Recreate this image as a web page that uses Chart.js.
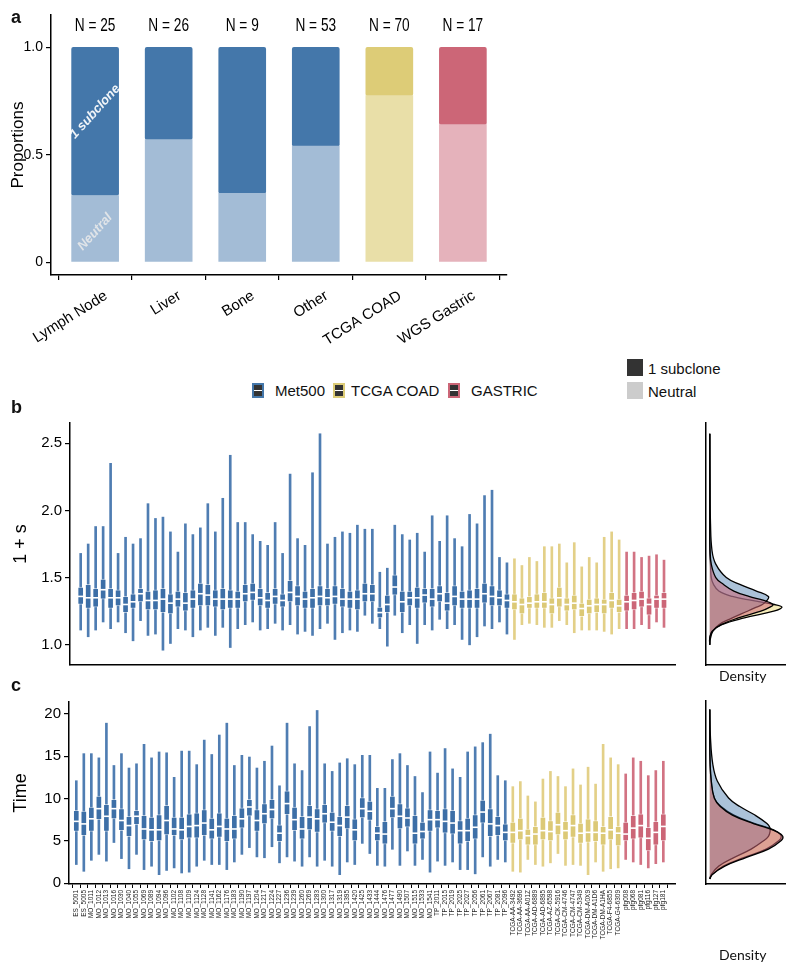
<!DOCTYPE html>
<html>
<head>
<meta charset="utf-8">
<script src="https://cdn.jsdelivr.net/npm/chart.js@4.4.1/dist/chart.umd.min.js"></script>
<style>
body { margin: 0; background: #fff; width: 800px; height: 963px; position: relative; overflow: hidden; font-family: "Liberation Sans", Arial, sans-serif; }
canvas { position: absolute; }
.t { position: absolute; white-space: nowrap; color: #111; line-height: 1; }
.letter { font-weight: bold; font-size: 18px; }
.bp { position: absolute; width: 8px; height: 11px; border: 2px solid; background: linear-gradient(#333 0 42%, #fff 42% 58%, #333 58%); }
.sq { position: absolute; width: 16px; height: 17px; }
.dens { font-family: Lato, "Open Sans", sans-serif; font-size: 14px; }
</style>
</head>
<body>
<canvas id="propChart" width="520" height="350" style="left:0;top:0"></canvas>
<canvas id="selChart" width="690" height="280" style="left:0;top:400px"></canvas>
<canvas id="selDens" width="110" height="280" style="left:690px;top:400px"></canvas>
<canvas id="timeChart" width="690" height="273" style="left:0;top:690px"></canvas>
<canvas id="timeDens" width="110" height="273" style="left:690px;top:690px"></canvas>

<div class="t letter" style="left:11px;top:8px">a</div>
<div class="t letter" style="left:11px;top:398px">b</div>
<div class="t letter" style="left:11px;top:676px">c</div>

<div class="bp" style="left:252px;top:383px;border-color:#4477aa"></div>
<div class="t" style="left:275px;top:383px;font-size:15px">Met500</div>
<div class="bp" style="left:333px;top:383px;border-color:#ddcc77"></div>
<div class="t" style="left:351px;top:383px;font-size:15px">TCGA COAD</div>
<div class="bp" style="left:448px;top:383px;border-color:#cc6677"></div>
<div class="t" style="left:471px;top:383px;font-size:15px">GASTRIC</div>

<div class="sq" style="left:627px;top:359px;background:#333"></div>
<div class="t" style="left:648px;top:361px;font-size:15px">1 subclone</div>
<div class="sq" style="left:627px;top:382px;background:#ccc"></div>
<div class="t" style="left:648px;top:384px;font-size:15px">Neutral</div>

<div class="t dens" style="left:719px;top:669px">Density</div>
<div class="t dens" style="left:719px;top:948px">Density</div>

<script>
Chart.defaults.font.family = '"Liberation Sans", Arial, sans-serif';
Chart.defaults.color = '#111';
Chart.defaults.animation = false;

// ---- panel a: proportions ----
const sites = ["Lymph Node", "Liver", "Bone", "Other", "TCGA COAD", "WGS Gastric"];
const siteN = [25, 26, 9, 53, 70, 17];
const neutralProp = [0.31, 0.57, 0.32, 0.54, 0.775, 0.64];
const subcloneProp = [0.69, 0.43, 0.68, 0.46, 0.225, 0.36];
const propTicks = [0, 0.5, 1.0];

// ---- panels b/c: per-sample boxplots ----
const samples = [
  "ES_5001","ES_5005","MO_1011","MO_1012","MO_1013","MO_1016","MO_1030","MO_1040","MO_1055","MO_1069",
  "MO_1089","MO_1094","MO_1096","MO_1102","MO_1108","MO_1109","MO_1124","MO_1128","MO_1141","MO_1162",
  "MO_1176","MO_1183","MO_1190","MO_1197","MO_1204","MO_1217","MO_1224","MO_1227","MO_1236","MO_1239",
  "MO_1260","MO_1269","MO_1283","MO_1300","MO_1317","MO_1319","MO_1395","MO_1420","MO_1425","MO_1433",
  "MO_1444","MO_1476","MO_1477","MO_1490","MO_1507","MO_1515","MO_1533","MO_1541","TP_2011","TP_2015",
  "TP_2019","TP_2025","TP_2027","TP_2056","TP_2061","TP_2067","TP_2081","TP_2096","TCGA-AA-3492","TCGA-AA-3696",
  "TCGA-AA-A01Z","TCGA-AD-6889","TCGA-AD-6895","TCGA-AZ-6598","TCGA-CK-5916","TCGA-CM-4746","TCGA-CM-4747","TCGA-CM-5349","TCGA-DM-A0X9","TCGA-DM-A1D6",
  "TCGA-DM-A1HA","TCGA-F4-6855","TCGA-G4-6309","pfg008","pfg068","pfg081","pfg116","pfg127","pfg181"
];

// 1 + s
const selMax = [1.68,1.75,1.88,1.88,2.35,1.68,1.80,1.75,1.79,2.05, 1.94,1.95,1.84,1.69,1.90,1.82,1.87,2.05,1.84,2.09,
  2.41,1.91,1.91,1.82,1.77,1.74,1.91,1.68,2.27,1.79, 1.74,2.28,2.57,1.75,1.80,1.84,1.83,1.89,1.86,1.86,
  1.54,1.57,1.89,1.82,1.78,1.83,1.69,1.96,1.77,1.96, 1.79,1.73,1.97,1.90,2.11,2.15,1.65,1.61,1.64,1.59,
  1.65,1.62,1.73,1.73,1.75,1.61,1.76,1.58,1.65,1.61, 1.80,1.84,1.78,1.69,1.69,1.65,1.66,1.67,1.63];
const selQ3 = [1.43,1.45,1.42,1.49,1.42,1.41,1.36,1.38,1.42,1.40, 1.41,1.42,1.38,1.40,1.39,1.41,1.46,1.45,1.41,1.42,
  1.41,1.40,1.45,1.46,1.42,1.39,1.42,1.38,1.48,1.44, 1.40,1.42,1.44,1.42,1.44,1.42,1.40,1.41,1.46,1.45,
  1.28,1.37,1.52,1.40,1.40,1.43,1.42,1.42,1.44,1.39, 1.44,1.40,1.41,1.42,1.46,1.44,1.41,1.38,1.38,1.35,
  1.36,1.38,1.39,1.35,1.43,1.35,1.37,1.31,1.34,1.35, 1.34,1.39,1.34,1.37,1.39,1.40,1.35,1.37,1.39];
const selMed = [1.36,1.35,1.35,1.41,1.35,1.35,1.30,1.32,1.38,1.33, 1.33,1.34,1.31,1.34,1.31,1.34,1.38,1.37,1.34,1.34,
  1.34,1.34,1.38,1.39,1.35,1.33,1.36,1.33,1.39,1.36, 1.34,1.35,1.36,1.35,1.36,1.34,1.34,1.34,1.38,1.38,
  1.24,1.30,1.43,1.32,1.35,1.35,1.37,1.34,1.38,1.31, 1.36,1.34,1.34,1.34,1.38,1.36,1.35,1.33,1.32,1.30,
  1.31,1.32,1.32,1.30,1.35,1.30,1.31,1.27,1.29,1.30, 1.30,1.33,1.29,1.32,1.33,1.34,1.30,1.34,1.34];
const selQ1 = [1.30,1.27,1.28,1.34,1.27,1.29,1.24,1.27,1.32,1.26, 1.26,1.24,1.23,1.28,1.25,1.27,1.29,1.29,1.28,1.26,
  1.27,1.27,1.32,1.33,1.29,1.27,1.30,1.28,1.32,1.29, 1.27,1.27,1.29,1.29,1.30,1.28,1.27,1.26,1.32,1.32,
  1.20,1.24,1.37,1.24,1.29,1.27,1.31,1.28,1.32,1.25, 1.29,1.27,1.27,1.27,1.31,1.29,1.29,1.27,1.26,1.23,
  1.27,1.27,1.27,1.23,1.28,1.25,1.26,1.21,1.23,1.24, 1.23,1.27,1.24,1.25,1.26,1.28,1.22,1.27,1.27];
const selMin = [1.11,1.06,1.11,1.17,1.12,1.17,1.09,1.03,1.18,1.07, 1.08,0.96,1.01,1.12,1.11,1.06,1.11,1.13,1.07,1.13,
  0.98,1.12,1.15,1.17,1.11,1.12,1.16,1.11,1.15,1.08, 1.10,1.07,1.12,1.16,1.04,1.09,1.11,1.10,1.22,1.16,
  1.12,0.99,1.22,1.09,1.15,1.01,1.15,1.11,1.19,1.12, 1.15,1.04,1.00,1.06,1.14,1.12,1.17,1.08,1.04,1.15,
  1.16,1.15,1.13,1.13,1.18,1.15,1.09,1.11,1.11,1.11, 1.10,1.08,1.12,1.12,1.12,1.15,1.12,1.17,1.13];

// Time
const timeMax = [12.1,15.3,15.3,14.8,18.9,13.9,15.3,13.6,14.1,16.4, 14.8,15.5,15.4,12.5,15.6,15.6,14.0,16.9,15.2,17.5,
  18.9,13.9,15.1,14.9,13.6,14.4,16.2,11.5,18.9,14.1, 13.3,18.5,20.4,14.1,13.2,14.2,14.7,14.0,15.1,15.1,
  11.2,11.2,14.6,15.3,13.9,12.6,10.7,15.5,13.0,15.9, 13.5,12.5,15.5,16.1,16.6,17.6,12.7,12.1,11.4,12.0,
  10.3,9.6,12.3,13.2,12.6,11.4,13.5,11.6,13.7,11.7, 16.4,14.8,14.0,12.9,14.8,14.4,12.7,13.3,14.4];
const timeQ3 = [8.6,8.5,9.0,10.3,9.3,9.9,8.8,7.9,8.6,8.0, 7.8,8.1,9.2,7.8,7.8,8.2,8.3,8.7,7.7,8.3,
  7.7,8.0,8.9,9.9,8.7,9.4,9.9,6.9,10.9,9.0, 7.9,9.2,8.8,9.3,8.4,7.9,9.2,7.6,10.1,9.7,
  6.7,7.3,10.3,9.4,8.9,8.0,7.2,8.7,8.6,8.8, 8.6,7.4,7.7,8.1,9.8,8.8,7.9,7.0,7.2,7.7,
  6.4,6.7,7.8,7.4,8.4,7.3,8.1,7.1,7.6,7.4, 6.7,7.9,6.7,7.2,8.0,8.2,6.6,7.3,8.2];
const timeMed = [7.3,7.0,7.6,8.8,7.9,8.8,7.4,6.8,7.9,6.4, 6.3,6.3,7.4,6.4,6.3,6.7,6.8,7.1,6.3,6.7,
  6.4,6.4,7.6,9.0,7.4,8.2,8.7,5.9,9.4,7.5, 6.4,7.8,7.6,8.2,7.2,6.8,7.8,6.3,8.8,8.5,
  5.9,5.8,8.8,7.9,7.7,5.9,6.1,7.5,7.5,7.3, 7.1,6.2,6.2,6.6,8.4,7.0,6.8,6.0,6.0,6.2,
  5.6,5.8,6.2,6.1,6.9,6.2,6.8,5.9,6.0,6.0, 5.9,6.3,5.9,5.8,6.5,6.8,5.3,6.0,6.7];
const timeQ1 = [6.1,5.6,6.1,7.5,6.1,7.6,6.2,5.5,6.9,5.1, 4.9,5.0,5.7,5.6,5.1,5.3,5.3,5.6,5.2,5.4,
  4.9,5.2,6.5,7.9,6.1,7.0,7.6,4.9,8.1,6.2, 5.2,6.3,6.0,7.1,6.1,5.5,6.4,5.0,7.7,7.4,
  5.0,4.6,7.7,6.4,6.6,4.6,5.2,6.1,6.5,5.9, 5.8,4.6,4.9,5.2,7.1,5.5,5.6,5.0,4.7,5.1,
  4.5,4.5,5.1,5.0,5.7,5.1,5.4,4.7,4.8,4.9, 4.5,5.1,4.4,5.0,5.2,5.3,3.8,4.5,5.0];
const timeMin = [2.2,1.4,2.7,3.4,2.6,4.8,2.9,1.7,3.4,1.6, 2.0,1.0,1.5,1.8,1.2,1.3,2.0,2.7,2.2,2.2,
  1.6,2.5,3.4,4.2,3.1,3.0,4.3,2.4,3.1,2.6, 2.0,3.1,2.0,2.7,2.0,1.0,2.5,2.2,4.7,3.5,
  2.1,2.0,4.0,2.1,3.8,2.1,2.8,1.3,2.6,2.1, 2.5,1.6,1.6,1.1,3.1,2.0,2.8,2.5,1.4,1.3,
  2.8,2.2,2.0,2.4,3.5,2.1,2.2,2.1,1.0,2.5, 1.4,1.7,1.8,2.8,2.5,2.2,1.8,2.3,2.5];

const selTicks = [1.0, 1.5, 2.0, 2.5];
const timeTicks = [0, 5, 10, 15, 20];

// density curves (relative height) along the value axis
const selDensAt = [1.00, 1.05, 1.10, 1.15, 1.20, 1.25, 1.28, 1.30, 1.33, 1.36, 1.40, 1.45, 1.50, 1.60, 1.70, 1.90, 2.20, 2.57];
const selDensMet = [0.00, 0.01, 0.04, 0.12, 0.30, 0.50, 0.62, 0.70, 0.76, 0.78, 0.62, 0.40, 0.22, 0.08, 0.03, 0.01, 0.004, 0.0];
const selDensTcga = [0.00, 0.00, 0.03, 0.16, 0.46, 0.85, 0.96, 0.86, 0.56, 0.30, 0.12, 0.05, 0.02, 0.01, 0.0, 0.0, 0.0, 0.0];
const selDensGas = [0.00, 0.00, 0.03, 0.15, 0.38, 0.68, 0.80, 0.84, 0.72, 0.52, 0.32, 0.18, 0.08, 0.02, 0.005, 0.0, 0.0, 0.0];

const timeDensAt = [0.5, 1, 2, 3, 4, 5, 5.5, 6, 6.5, 7, 8, 9, 10, 12, 14, 17, 20.4];
const timeDensMet = [0, 0.02, 0.12, 0.32, 0.55, 0.72, 0.78, 0.80, 0.80, 0.76, 0.60, 0.40, 0.25, 0.10, 0.04, 0.01, 0];
const timeDensTcga = [0, 0.03, 0.18, 0.45, 0.75, 0.92, 0.95, 0.90, 0.78, 0.60, 0.32, 0.15, 0.06, 0.02, 0.005, 0, 0];
const timeDensGas = [0, 0.03, 0.20, 0.48, 0.78, 0.95, 0.97, 0.90, 0.76, 0.58, 0.30, 0.14, 0.06, 0.02, 0.005, 0, 0];

// colours
const darkCol = ["#4477aa", "#4477aa", "#4477aa", "#4477aa", "#ddcc77", "#cc6677"];
const lightCol = ["#a3bcd6", "#a3bcd6", "#a3bcd6", "#a3bcd6", "#e9dfa8", "#e5b2bb"];
const whiskerCol = ["#4f7db2", "#e3d088", "#d27383"];
const boxCol = ["#3d6fa7", "#dcc976", "#cc6677"];

function cohortOf(s) {
  if (s.startsWith("TCGA")) return 1;
  if (s.startsWith("pfg")) return 2;
  return 0;
}

const axisBlack = { display: true, color: "#000", width: 1.5 };

// Panel a: "N = .." headers and the in-bar captions
const propLabels = {
  id: "propLabels",
  afterDatasetsDraw(chart) {
    const { ctx, scales: { x, y } } = chart;
    ctx.save();
    ctx.fillStyle = "#000";
    ctx.textAlign = "center";
    ctx.textBaseline = "middle";
    ctx.font = '19px "Liberation Sans", sans-serif';
    siteN.forEach((n, i) => {
      ctx.save();
      ctx.translate(x.getPixelForValue(i), y.getPixelForValue(1.1));
      ctx.scale(0.72, 1); // the original type is condensed
      ctx.fillText("N = " + n, 0, 0);
      ctx.restore();
    });
    ctx.restore();

    ctx.save();
    ctx.textAlign = "center";
    ctx.textBaseline = "middle";
    ctx.font = 'italic bold 13px "Liberation Sans", sans-serif';
    ctx.translate(x.getPixelForValue(0), y.getPixelForValue(0.7));
    ctx.rotate(-48 * Math.PI / 180);
    ctx.fillStyle = "rgba(255,255,255,0.92)";
    ctx.fillText("1 subclone", 0, 0);
    ctx.restore();

    ctx.save();
    ctx.textAlign = "center";
    ctx.textBaseline = "middle";
    ctx.font = 'italic bold 13px "Liberation Sans", sans-serif';
    ctx.translate(x.getPixelForValue(0), y.getPixelForValue(0.14));
    ctx.rotate(-48 * Math.PI / 180);
    ctx.fillStyle = "rgba(235,235,235,0.85)";
    ctx.fillText("Neutral", 0, 0);
    ctx.restore();
  }
};

new Chart(document.getElementById("propChart"), {
  type: "bar",
  data: {
    datasets: [
      {
        label: "Neutral",
        data: neutralProp.map((v, i) => ({ x: i, y: v })),
        backgroundColor: lightCol,
        barThickness: 47,
        borderRadius: 2,
        borderSkipped: false
      },
      {
        label: "1 subclone",
        data: subcloneProp.map((v, i) => ({ x: i, y: v })),
        backgroundColor: darkCol,
        barThickness: 47,
        borderRadius: 2,
        borderSkipped: false
      }
    ]
  },
  options: {
    responsive: false,
    layout: { padding: { top: 15, right: 13, left: 0, bottom: 0 } },
    plugins: { legend: { display: false }, tooltip: { enabled: false } },
    scales: {
      x: {
        type: "linear",
        stacked: true,
        offset: false,
        min: -0.6,
        max: 5.6,
        afterBuildTicks: (axis) => { axis.ticks = sites.map((s, i) => ({ value: i })); },
        afterFit: (axis) => { axis.height = 75; },
        ticks: {
          autoSkip: false,
          minRotation: 32,
          maxRotation: 32,
          padding: 7,
          labelOffset: 11,
          color: "#000",
          font: { size: 15 },
          callback: (v) => sites[v]
        },
        grid: { display: true, drawOnChartArea: false, drawTicks: true, tickLength: 5, color: "#000", lineWidth: 1.2 },
        border: axisBlack
      },
      y: {
        stacked: true,
        min: -0.06,
        max: 1.15,
        afterBuildTicks: (axis) => { axis.ticks = propTicks.map(v => ({ value: v })); },
        afterFit: (axis) => { axis.width = 51; },
        ticks: {
          padding: 3,
          color: "#000",
          font: { size: 14 },
          callback: (v) => v === 0 ? "0" : v.toFixed(1)
        },
        grid: { display: true, drawOnChartArea: false, drawTicks: true, tickLength: 5, color: "#000", lineWidth: 1.2 },
        border: axisBlack,
        title: { display: true, text: "Proportions", color: "#000", font: { size: 17 }, padding: { top: 8, bottom: 0 } }
      }
    }
  },
  plugins: [propLabels]
});

// Panels b and c share the same boxplot layout
function boxChart(canvasId, mins, q1s, meds, q3s, maxs, cfg) {
  const groups = samples.map(cohortOf);
  return new Chart(document.getElementById(canvasId), {
    type: "bar",
    data: {
      datasets: [
        {
          type: "line",
          label: "median",
          data: samples.map((s, i) => ({ x: i, y: meds[i] })),
          showLine: false,
          pointStyle: "line",
          pointRadius: 3.2,
          pointBorderWidth: 1.6,
          pointBorderColor: "#fff",
          pointBackgroundColor: "#fff"
        },
        {
          label: "box",
          data: samples.map((s, i) => ({ x: i, y: [q1s[i], q3s[i]] })),
          backgroundColor: groups.map(g => boxCol[g]),
          borderColor: "rgba(255,255,255,0.55)",
          borderWidth: 1,
          borderSkipped: false,
          barThickness: 6,
          grouped: false
        },
        {
          label: "whisker",
          data: samples.map((s, i) => ({ x: i, y: [mins[i], maxs[i]] })),
          backgroundColor: groups.map(g => whiskerCol[g]),
          barThickness: 2,
          grouped: false
        }
      ]
    },
    options: {
      responsive: false,
      layout: { padding: { top: cfg.top, right: 15, left: 0, bottom: 0 } },
      plugins: { legend: { display: false }, tooltip: { enabled: false } },
      scales: {
        x: {
          type: "linear",
          offset: false,
          min: cfg.xMin,
          max: cfg.xMax,
          afterBuildTicks: (axis) => { axis.ticks = samples.map((s, i) => ({ value: i })); },
          afterFit: (axis) => { axis.height = cfg.xHeight; },
          ticks: cfg.showNames ? {
            autoSkip: false,
            minRotation: 90,
            maxRotation: 90,
            padding: 2,
            color: "#222",
            font: { size: 6.5 },
            callback: (v) => samples[v]
          } : { display: false },
          grid: cfg.showNames
            ? { display: true, drawOnChartArea: false, drawTicks: true, tickLength: 4, color: "#000", lineWidth: 1 }
            : { display: false },
          border: axisBlack
        },
        y: {
          min: cfg.yMin,
          max: cfg.yMax,
          afterBuildTicks: (axis) => { axis.ticks = cfg.yTicks.map(v => ({ value: v })); },
          afterFit: (axis) => { axis.width = cfg.yWidth; },
          ticks: { padding: 3, color: "#000", font: { size: 15 }, callback: cfg.fmt },
          grid: { display: true, drawOnChartArea: false, drawTicks: true, tickLength: 5, color: "#000", lineWidth: 1.2 },
          border: axisBlack,
          title: { display: true, text: cfg.title, color: "#000", font: { size: 18 }, padding: { top: 10, bottom: 0 } }
        }
      }
    }
  });
}

boxChart("selChart", selMin, selQ1, selMed, selQ3, selMax, {
  top: 23, xHeight: 15, yWidth: 70, xMin: -1.43, xMax: 79.47,
  yMin: 0.85, yMax: 2.65, yTicks: selTicks, fmt: (v) => v.toFixed(1), title: "1 + s", showNames: false
});

boxChart("timeChart", timeMin, timeQ1, timeMed, timeQ3, timeMax, {
  top: 11, xHeight: 79, yWidth: 69, xMin: -0.97, xMax: 79.55,
  yMin: -0.1, yMax: 21.4, yTicks: timeTicks, fmt: (v) => String(v), title: "Time", showNames: true
});

// density side panels
function densChart(canvasId, at, met, tcga, gas, cfg) {
  const curve = (vals, fillCol) => ({
    data: vals.map((d, i) => ({ x: d, y: at[i] })),
    borderColor: "#000",
    borderWidth: 1.3,
    backgroundColor: fillCol,
    fill: "origin",
    tension: 0.4,
    pointRadius: 0
  });
  return new Chart(document.getElementById(canvasId), {
    type: "line",
    data: {
      datasets: [
        curve(gas, "rgba(204,102,119,0.55)"),
        curve(met, "rgba(68,119,170,0.45)"),
        curve(tcga, "rgba(238,221,136,0.6)")
      ]
    },
    options: {
      responsive: false,
      indexAxis: "y",
      layout: { padding: { top: cfg.top, right: 15, left: 0, bottom: 0 } },
      plugins: { legend: { display: false }, tooltip: { enabled: false } },
      scales: {
        x: {
          type: "linear",
          min: -0.05,
          max: 1.0,
          afterFit: (axis) => { axis.height = cfg.xHeight; },
          ticks: { display: false },
          grid: { display: false },
          border: axisBlack
        },
        y: {
          type: "linear",
          min: cfg.yMin,
          max: cfg.yMax,
          afterFit: (axis) => { axis.width = 16; },
          ticks: { display: false },
          grid: { display: false },
          border: axisBlack
        }
      }
    }
  });
}

densChart("selDens", selDensAt, selDensMet, selDensTcga, selDensGas, { top: 23, xHeight: 15, yMin: 0.85, yMax: 2.65 });
densChart("timeDens", timeDensAt, timeDensMet, timeDensTcga, timeDensGas, { top: 11, xHeight: 79, yMin: -0.1, yMax: 21.4 });
</script>
</body>
</html>
